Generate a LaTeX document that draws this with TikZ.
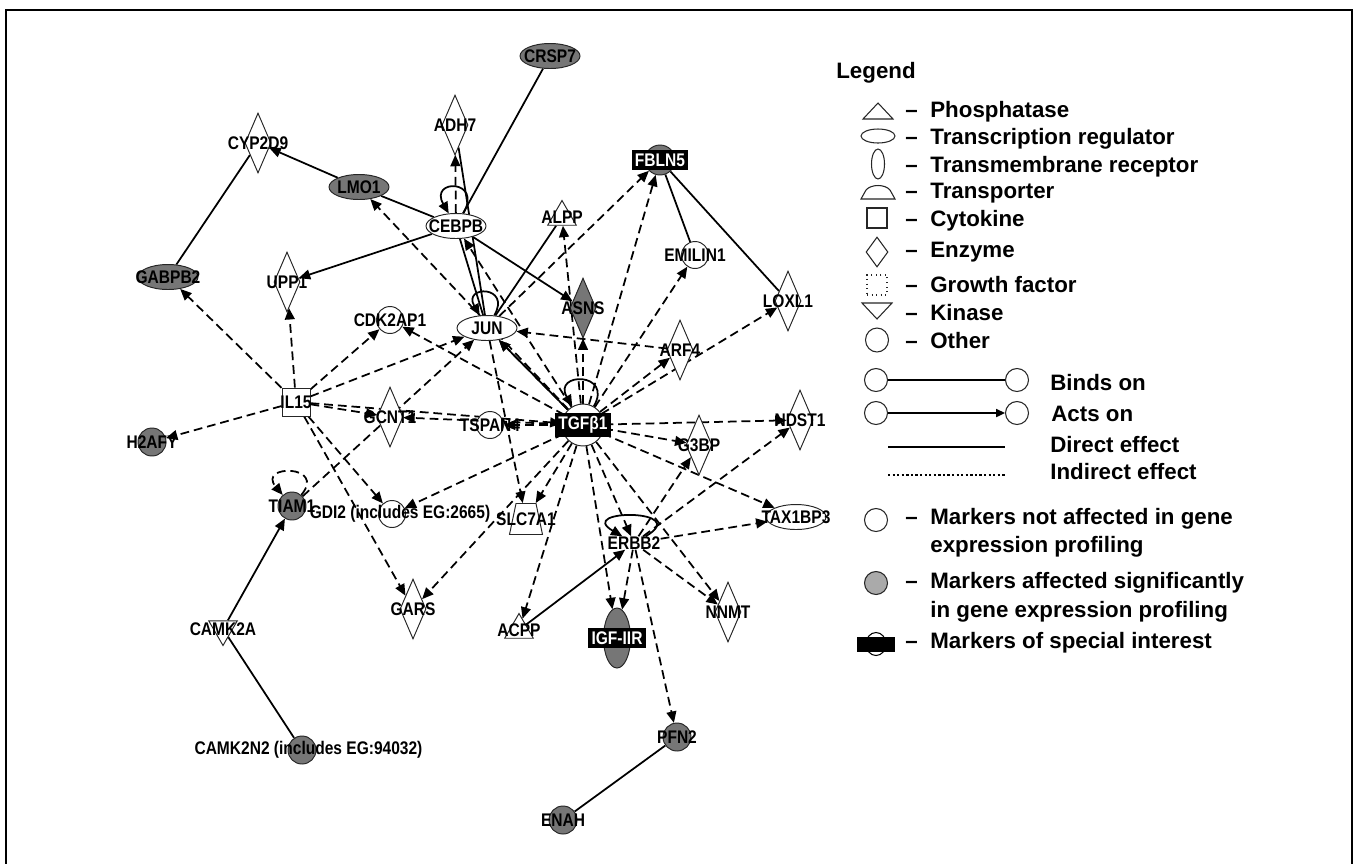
\documentclass[tikz,border=0pt]{standalone}
\usepackage{fontspec}
\setmainfont{Liberation Sans}
\newfontfamily\genefamily{Liberation Sans}[FakeStretch=0.85]
\usepackage{tikz}
\usetikzlibrary{arrows.meta,positioning,shapes.geometric}
\pgfdeclarelayer{edgelayer}
\pgfdeclarelayer{nodelayer}
\pgfsetlayers{edgelayer,nodelayer,main}
\definecolor{affected}{RGB}{118,118,118}
\definecolor{affectedlight}{RGB}{170,170,170}
\newcommand{\genefont}{\genefamily\fontsize{10.4}{11}\selectfont\bfseries}
\newcommand{\legfont}{\fontsize{12.7}{15}\selectfont\bfseries}
\tikzset{
  gene/.style={draw=black!85, line width=0.55pt, fill=white, inner sep=0pt},
  glabel/.style={font=\genefont, inner sep=0pt},
  focuslabel/.style={font=\genefont, fill=black, text=white, inner sep=1.8pt, minimum height=0.36cm},
  focus/.style={label={[focuslabel]center:{#1}}},
  hit/.style={fill=affected},
  enzyme/.style={gene, diamond, minimum width=0.52cm, minimum height=1.2cm, label={[glabel]center:{#1}}},
  other/.style={gene, circle, minimum size=0.54cm, label={[glabel]center:{#1}}},
  hitdot/.style={other=#1, fill=affected, minimum size=0.56cm},
  regulator/.style={gene, ellipse, minimum width=1.2cm, minimum height=0.5cm, label={[glabel]center:{#1}}},
  receptor/.style={gene, ellipse, minimum width=0.54cm, minimum height=1.2cm},
  phosphatase/.style={gene, regular polygon, regular polygon sides=3, minimum size=0.66cm, label={[glabel]center:{#1}}},
  kinase/.style={phosphatase=#1, shape border rotate=180},
  transporter/.style={gene, trapezium, trapezium stretches=true, trapezium left angle=72, trapezium right angle=72, inner sep=2pt, minimum width=0.66cm, minimum height=0.62cm, label={[glabel]center:{#1}}},
  cytokine/.style={gene, rectangle, minimum size=0.56cm, label={[glabel]center:{#1}}},
  direct/.style={line width=1pt},
  indirect/.style={line width=1pt, dash pattern=on 5pt off 2.8pt},
  legtext/.style={font=\legfont, inner sep=0pt, anchor=base west},
  legicon/.style={draw=black!85, line width=0.6pt, fill=white, inner sep=0pt},
}

\begin{document}
\begin{tikzpicture}[x=0.02cm,y=-0.02cm,>={Triangle[length=6.5pt,width=5.6pt]}]
\useasboundingbox (0,0) rectangle (1358,863);
\draw[line width=1.3pt] (6,880) -- (6,10) -- (1352,10) -- (1352,880);

\node[regulator=CRSP7,hit] (CRSP7) at (550,56) {};
\node[enzyme=ADH7] (ADH7) at (455,125) {};
\node[enzyme=CYP2D9] (CYP2D9) at (258,143) {};
\node[regulator=LMO1,hit] (LMO1) at (359,187) {};
\node[regulator=CEBPB] (CEBPB) at (456,226) {};
\node[regulator=GABPB2,hit] (GABPB2) at (168,277) {};
\node[enzyme=UPP1] (UPP1) at (287,282) {};
\node[phosphatase=ALPP] (ALPP) at (562,217) {};
\node[gene,hit,circle,minimum size=0.6cm,focus=FBLN5] (FBLN5) at (660,160) {};
\node[other=EMILIN1] (EMILIN1) at (695,255) {};
\node[enzyme=ASNS,hit] (ASNS) at (583,308) {};
\node[enzyme=LOXL1] (LOXL1) at (788,301) {};
\node[regulator=JUN] (JUN) at (487,328) {};
\node[other=CDK2AP1] (CDK2AP1) at (390,320) {};
\node[enzyme=ARF4] (ARF4) at (680,350) {};
\node[cytokine=IL15] (IL15) at (296,402) {};
\node[hitdot=H2AFY] (H2AFY) at (152,442) {};
\node[enzyme=GCNT1] (GCNT1) at (390,417) {};
\node[other=TSPAN4] (TSPAN4) at (490,425) {};
\node[gene,circle,minimum size=0.84cm,focus=TGFβ1] (TGFB1) at (583,425) {};
\node[enzyme=G3BP] (G3BP) at (699,445) {};
\node[enzyme=NDST1] (NDST1) at (800,420) {};
\node[hitdot=TIAM1] (TIAM1) at (292,506) {};
\node[gene,circle,minimum size=0.54cm,label={[glabel,xshift=0.16cm]center:{GDI2 (includes EG:2665)}}] (GDI2) at (392,514) {};
\node[transporter=SLC7A1] (SLC7A1) at (526,519) {};
\node[glabel] (ERBB2) at (634,543) {ERBB2};
\node[regulator=TAX1BP3] (TAX1BP3) at (796,517) {};
\node[enzyme=GARS] (GARS) at (413,609) {};
\node[phosphatase=ACPP] (ACPP) at (519,630) {};
\node[receptor,hit,focus=IGF-IIR] (IGFIIR) at (617,638) {};
\node[enzyme=NNMT] (NNMT) at (728,612) {};
\node[kinase=CAMK2A] (CAMK2A) at (223,629) {};
\node[gene,hit,circle,minimum size=0.56cm,label={[glabel,xshift=0.13cm]center:{CAMK2N2 (includes EG:94032)}}] (CAMK2N2) at (302,750) {};
\node[hitdot=PFN2] (PFN2) at (677,737) {};
\node[hitdot=ENAH] (ENAH) at (563,820) {};

\node[legtext] (lgTitle) at (836,78) {Legend};
\draw[legicon] (863,119) -- (893,119) -- (878,103) -- cycle;
\node[legicon,ellipse,minimum width=0.68cm,minimum height=0.28cm] (icTR) at (878,136) {};
\node[legicon,ellipse,minimum width=0.26cm,minimum height=0.6cm] (icTM) at (878,164) {};
\draw[legicon] (861,199) -- (895,199) -- (890,190) .. controls (885,184) and (871,184) .. (866,190) -- cycle;
\node[legicon,minimum size=0.4cm] (icCyto) at (877,218) {};
\node[legicon,diamond,minimum width=0.44cm,minimum height=0.6cm] (icEnz) at (877,252) {};
\node[legicon,dotted,minimum size=0.4cm] (icGrowth) at (877,285) {};
\draw[legicon] (862,303) -- (892,303) -- (877,319) -- cycle;
\node[legicon,ellipse,minimum width=0.46cm,minimum height=0.48cm] (icOther) at (877,340) {};
\node[legtext] (dPhos) at (905,117) {–};
\node[legtext] (dTR) at (905,144) {–};
\node[legtext] (dTM) at (905,172) {–};
\node[legtext] (dTrans) at (905,198) {–};
\node[legtext] (dCyto) at (905,226) {–};
\node[legtext] (dEnz) at (905,257) {–};
\node[legtext] (dGrowth) at (905,292) {–};
\node[legtext] (dKin) at (905,320) {–};
\node[legtext] (dOther) at (905,348) {–};
\node[legtext] (lgPhos) at (930,117) {Phosphatase};
\node[legtext] (lgTR) at (930,144) {Transcription regulator};
\node[legtext] (lgTM) at (930,172) {Transmembrane receptor};
\node[legtext] (lgTrans) at (930,198) {Transporter};
\node[legtext] (lgCyto) at (930,226) {Cytokine};
\node[legtext] (lgEnz) at (930,257) {Enzyme};
\node[legtext] (lgGrowth) at (930,292) {Growth factor};
\node[legtext] (lgKin) at (930,320) {Kinase};
\node[legtext] (lgOther) at (930,348) {Other};

\node[legicon,circle,minimum size=0.46cm] (bindL) at (876,380) {};
\node[legicon,circle,minimum size=0.46cm] (bindR) at (1017,380) {};
\node[legicon,circle,minimum size=0.46cm] (actL) at (876,413) {};
\node[legicon,circle,minimum size=0.46cm] (actR) at (1017,413) {};
\coordinate (dirL) at (888,447);
\coordinate (dirR) at (1005,447);
\coordinate (indL) at (888,475);
\coordinate (indR) at (1005,475);
\node[legtext] (lgBind) at (1050,390) {Binds on};
\node[legtext] (lgAct) at (1051,421) {Acts on};
\node[legtext] (lgDir) at (1050,452) {Direct effect};
\node[legtext] (lgInd) at (1050,479) {Indirect effect};

\node[legicon,circle,minimum size=0.46cm] (icNot) at (876,520) {};
\node[legicon,circle,minimum size=0.46cm,fill=affectedlight] (icSig) at (876,583) {};
\node[draw=none,fill=black,minimum width=0.76cm,minimum height=0.3cm,inner sep=0pt] (icFocus) at (876,644) {};
\node[draw=black,line width=0.6pt,ellipse,minimum width=0.4cm,minimum height=0.46cm,inner sep=0pt] (icFocusC) at (876,644) {};
\node[legtext] (dNot) at (905,524) {–};
\node[legtext] (dSig) at (905,588) {–};
\node[legtext] (dFocus) at (905,648) {–};
\node[legtext] (lgNotA) at (930,524) {Markers not affected in gene};
\node[legtext] (lgNotB) at (930,552) {expression profiling};
\node[legtext] (lgSigA) at (930,588) {Markers affected significantly};
\node[legtext] (lgSigB) at (930,617) {in gene expression profiling};
\node[legtext] (lgFocus) at (930,648) {Markers of special interest};

\begin{pgfonlayer}{edgelayer}
\path[->]
(CRSP7) edge [direct,-] (CEBPB)
(LMO1) edge [direct] (CYP2D9)
(LMO1) edge [direct,-] (CEBPB)
(CYP2D9) edge [direct,-] (GABPB2)
(CEBPB) edge [direct] (UPP1)
(CEBPB) edge [direct] (ASNS)
(JUN) edge [direct,-] (CEBPB)
(ADH7) edge [direct,-] (JUN)
(JUN) edge [direct,-] (ALPP)
(TGFB1) edge [direct] (JUN)
(FBLN5) edge [direct,-] (EMILIN1)
(FBLN5) edge [direct,-] (LOXL1)
(ACPP) edge [direct] (ERBB2)
(CAMK2A) edge [direct] (TIAM1)
(CAMK2A) edge [direct,-] (CAMK2N2)
(PFN2) edge [direct,-] (ENAH)
(CEBPB) edge [direct,loop,out=60,in=120,min distance=0.8cm] (CEBPB)
(JUN) edge [direct,loop,out=60,in=120,min distance=0.7cm] (JUN)
(TGFB1) edge [direct,loop,out=60,in=120,min distance=0.8cm] (TGFB1)
(ERBB2) edge [direct,loop,out=30,in=150,min distance=1.1cm] (ERBB2)
(TIAM1) edge [indirect,loop,out=50,in=130,min distance=0.8cm] (TIAM1)
(CEBPB) edge [indirect] (ADH7)
(TGFB1) edge [indirect] (CEBPB)
(TGFB1) edge [indirect] (LMO1)
(IL15) edge [indirect] (GABPB2)
(IL15) edge [indirect] (UPP1)
(IL15) edge [indirect] (CDK2AP1)
(IL15) edge [indirect] (JUN)
(IL15) edge [indirect] (H2AFY)
(IL15) edge [indirect] (GCNT1)
(IL15) edge [indirect] (TGFB1)
(IL15) edge [indirect] (GDI2)
(IL15) edge [indirect] (GARS)
(TIAM1) edge [indirect] (JUN)
(TGFB1) edge [indirect] (GCNT1)
(TGFB1) edge [indirect] (TSPAN4)
(TGFB1) edge [indirect] (CDK2AP1)
(TGFB1) edge [indirect] (JUN)
(TGFB1) edge [indirect] (ASNS)
(TGFB1) edge [indirect] (ALPP)
(JUN) edge [indirect] (FBLN5)
(TGFB1) edge [indirect] (FBLN5)
(TGFB1) edge [indirect] (EMILIN1)
(ARF4) edge [indirect] (JUN)
(TGFB1) edge [indirect] (ARF4)
(TGFB1) edge [indirect] (LOXL1)
(TGFB1) edge [indirect] (NDST1)
(TGFB1) edge [indirect] (G3BP)
(TGFB1) edge [indirect] (TAX1BP3)
(TGFB1) edge [indirect] (NNMT)
(TGFB1) edge [indirect] (ERBB2)
(TGFB1) edge [indirect] (IGFIIR)
(TGFB1) edge [indirect] (SLC7A1)
(JUN) edge [indirect] (SLC7A1)
(TGFB1) edge [indirect] (ACPP)
(TGFB1) edge [indirect] (GDI2)
(TGFB1) edge [indirect] (GARS)
(ERBB2) edge [indirect] (G3BP)
(ERBB2) edge [indirect] (NDST1)
(ERBB2) edge [indirect] (TAX1BP3)
(ERBB2) edge [indirect] (NNMT)
(ERBB2) edge [indirect] (IGFIIR)
(ERBB2) edge [indirect] (PFN2)
(bindL) edge [direct,-,line width=1.1pt] (bindR)
(actL) edge [direct,line width=1.1pt,-{Triangle[length=5pt,width=4.5pt]}] (actR)
(dirL) edge [direct,-,line width=1.1pt] (dirR)
(indL) edge [-,line width=1.1pt,dash pattern=on 1.3pt off 1.3pt] (indR);
\end{pgfonlayer}
\end{tikzpicture}
\end{document}
